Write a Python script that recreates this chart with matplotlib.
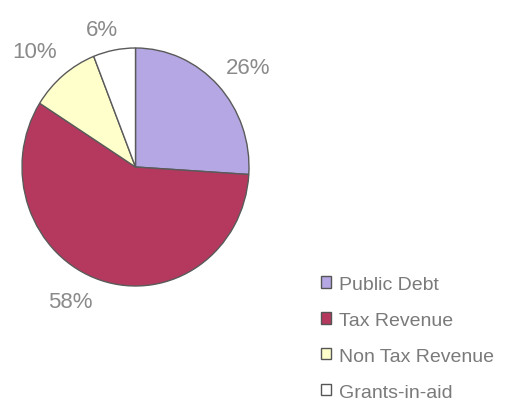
import numpy as np
import matplotlib
matplotlib.use("Agg")
import matplotlib.pyplot as plt
from matplotlib.patches import Patch

categories = ["Public Debt", "Tax Revenue", "Non Tax Revenue", "Grants-in-aid"]
shares = [26, 58, 10, 6]
colors = ["#b4a7e3", "#b5395f", "#ffffcc", "#ffffff"]

# percentage label placement: radial distance and angular nudge (degrees)
label_dist = [1.30, 1.27, 1.32, 1.19]
label_nudge = [-3, -9, 3, 3.4]

W, H = 508, 402
fig = plt.figure(figsize=(W / 100, H / 100), dpi=100)
fig.patch.set_facecolor("white")
plt.rcParams["font.family"] = ["Liberation Sans", "DejaVu Sans"]

# pie area in pixel units (slightly taller than wide)
cx, cy, rx, ry = 135.5, 168, 113.5, 119
ax = fig.add_axes([(cx - rx) / W, 1 - (cy + ry) / H, 2 * rx / W, 2 * ry / H])

wedges, texts, autotexts = ax.pie(
    shares, colors=colors, startangle=90, counterclock=False,
    autopct=lambda p: f"{p:.0f}%", pctdistance=1.3,
    wedgeprops=dict(edgecolor="#5a5a5a", linewidth=1.0),
    textprops=dict(color="#8a8a8a", fontsize=16),
)
ax.set_xlim(-1, 1)
ax.set_ylim(-1, 1)
ax.set_aspect("auto")
for w, t, d, n in zip(wedges, autotexts, label_dist, label_nudge):
    mid = np.deg2rad((w.theta1 + w.theta2) / 2 + n)
    t.set_position((d * np.cos(mid), d * np.sin(mid)))
    t.set_clip_on(False)

handles = [Patch(facecolor=c, edgecolor="#555555", linewidth=1.0) for c in colors]
fig.legend(handles, categories, loc="upper left",
           bbox_to_anchor=(321 / W, 1 - 277 / H), frameon=False,
           fontsize=14, labelcolor="#7a7a7a",
           handlelength=0.52, handleheight=0.52, handletextpad=0.4,
           labelspacing=0.97, borderpad=0, borderaxespad=0)

fig.savefig("out.png", dpi=100, facecolor="white")
